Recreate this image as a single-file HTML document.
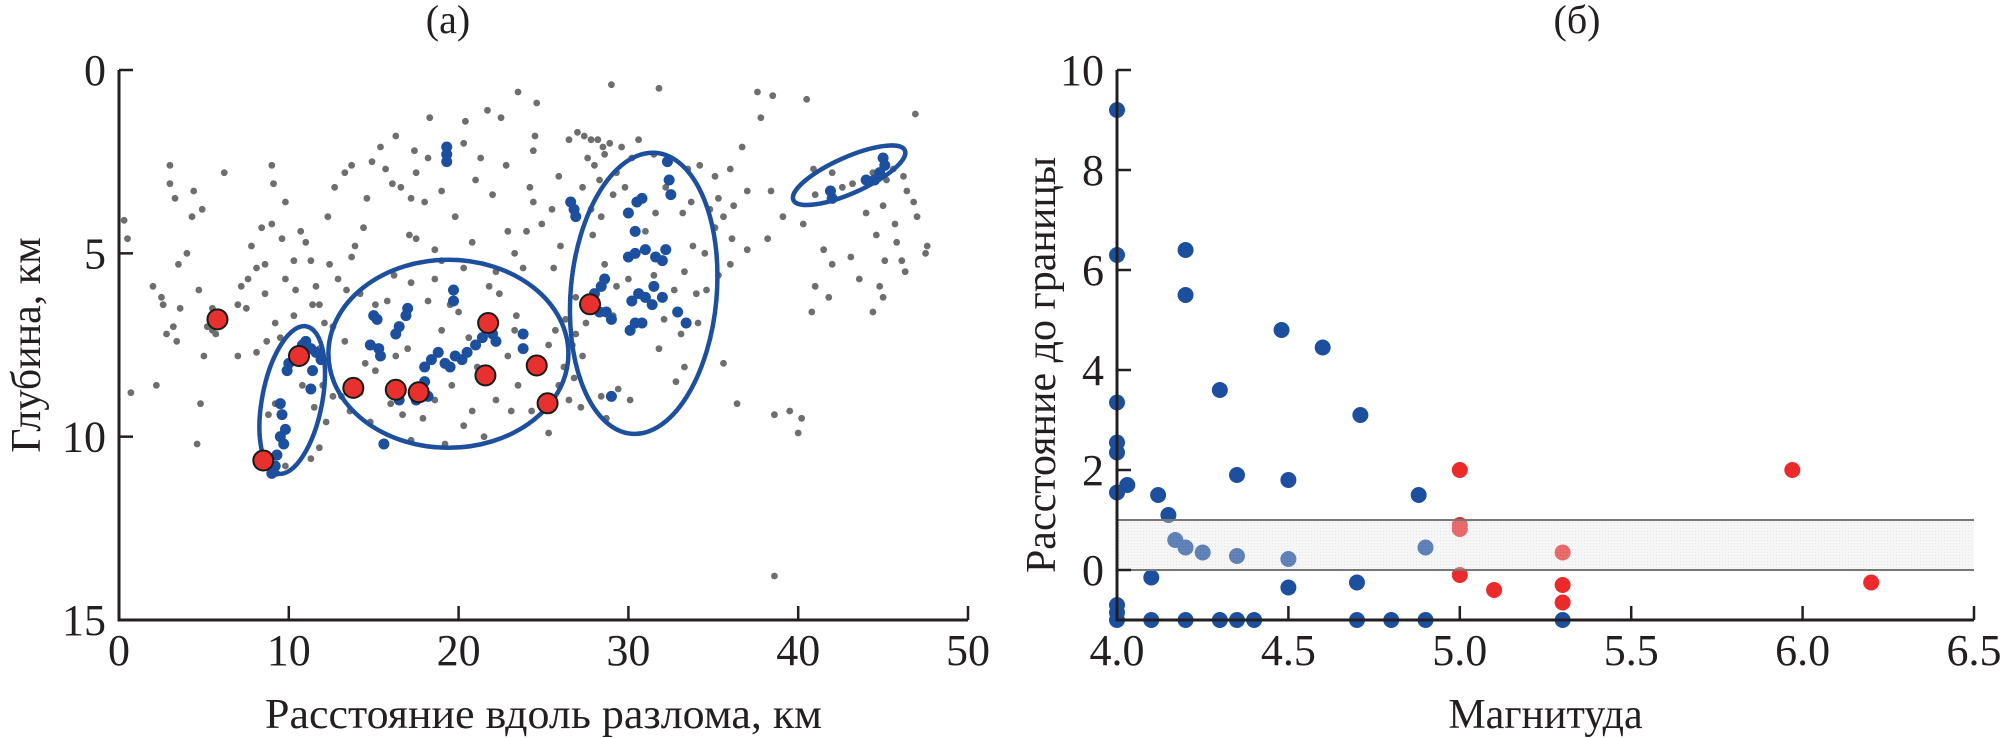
<!DOCTYPE html>
<html><head><meta charset="utf-8"><style>
html,body{margin:0;padding:0;background:#fff;}
svg{display:block;}
text{font-family:"Liberation Serif",serif;fill:#231f20;}
</style></head><body>
<svg id="chart" width="2005" height="738" viewBox="0 0 2005 738" xmlns="http://www.w3.org/2000/svg">
<defs>
<pattern id="dots" width="3" height="3" patternUnits="userSpaceOnUse"><rect width="3" height="3" fill="#e4e4e4"/><rect width="1" height="1" fill="#b8b8b8"/></pattern>
</defs>
<g id="panelA"></g>
<g id="panelB"></g>
</svg>
<script>
// ---------- Panel (a) data ----------
const aXTicks=[0,10,20,30,40,50];
const aYTicks=[0,5,10,15];
const grayPts=[[0.3,4.1],[0.5,4.6],[0.7,8.8],[2,5.9],[2.2,8.6],[2.5,6.2],[2.6,6.4],[3,2.6],[3,3.1],[3.3,3.5],[3.5,5.3],[3.6,6.5],[4.0,5.0],[4.3,4.0],[4.4,3.3],[4.6,10.2],[4.8,9.1],[4.7,6.0],[3.2,7.0],[3.4,7.4],[2.8,7.2],[5.2,7.0],[5.0,7.8],[5.5,7.1],[5.7,7.2],[6.2,2.8],[7,7.8],[7.5,6.5],[7,6.4],[7.2,5.9],[7.6,5.7],[8.1,5.4],[7.8,4.8],[8.4,4.3],[8.6,5.3],[8.6,6.1],[8.1,7.7],[8.7,7.4],[9,4.2],[9.6,4.6],[9.8,5.7],[10.3,5.2],[10.4,6.0],[10.3,6.7],[9.1,3.1],[9,2.6],[9.2,6.9],[9.5,7.3],[11,4.7],[11.4,6.4],[11.6,5.9],[11.8,6.4],[12.4,5.3],[12.1,6.9],[11.8,7.6],[12.3,4.0],[12.7,3.2],[13.3,2.8],[13.7,2.6],[13.9,4.8],[14.4,4.3],[14.6,3.5],[15.7,2.7],[16.3,1.8],[15.4,2.1],[14.9,2.5],[16.1,3.1],[16.6,3.2],[17.1,4.5],[17.2,5.8],[16.2,5.6],[17.5,4.6],[18.6,4.9],[17.4,2.2],[17.5,2.8],[18.2,2.4],[18.3,1.3],[19,3.3],[19.8,4.0],[20.3,2.0],[20.3,5.4],[20.8,4.7],[21.3,2.4],[21.7,1.1],[22.5,1.3],[22.8,2.6],[23.5,0.6],[24.6,0.9],[24.5,1.8],[24.4,2.2],[24.2,3.2],[24.4,3.6],[24.0,4.4],[23.3,5.0],[22.9,4.4],[23.8,5.4],[24.9,4.2],[25.5,3.8],[25.9,2.9],[26,4.8],[25.6,5.4],[26.5,1.9],[27,1.7],[27.4,1.8],[27.8,1.9],[28.5,2.1],[28.6,2.3],[29.3,2.8],[30.2,2.4],[30.6,1.9],[31.5,2.3],[29,0.4],[31.8,0.5],[27.3,3.2],[27.8,3.8],[27.9,4.5],[28.4,4.0],[28.6,5.3],[29.1,3.4],[30.1,3.9],[31,4.4],[31.6,3.9],[32.2,3.2],[33.5,2.7],[34.2,2.6],[35.1,2.9],[35.3,3.5],[35.1,4.3],[34.5,5.0],[33.8,4.8],[33.3,5.5],[32.7,6.0],[32.1,6.8],[31.8,7.6],[30.8,6.9],[29.3,5.9],[29.1,6.7],[30.0,5.7],[31.5,5.6],[34.6,6.0],[34.1,6.9],[33.1,7.2],[36.7,2.1],[36.0,2.7],[37.6,0.6],[38.5,0.7],[37.0,3.3],[36.2,3.7],[38.4,3.3],[39.1,4.0],[38.2,4.6],[37.0,4.9],[37.8,1.3],[40.5,0.8],[41,3.4],[40.3,4.2],[40.9,2.7],[42.0,2.8],[42.6,3.2],[43.2,3.1],[44.4,2.8],[45.2,3.0],[45.6,2.7],[46.2,2.9],[46.4,3.3],[46.8,3.6],[47.0,4.0],[45.7,4.2],[45.0,3.7],[44.0,3.9],[44.6,4.5],[45.8,4.7],[46.1,5.2],[47.5,5.0],[45.1,5.2],[44.8,5.9],[45.0,6.2],[43.6,5.7],[44.4,6.6],[42.0,5.3],[43.1,5.1],[41.5,4.9],[41,5.9],[41.8,6.2],[40.8,6.6],[46.9,1.2],[47.6,4.8],[46.3,5.5],[39.5,9.3],[38.6,9.4],[40.2,9.5],[40.0,9.9],[38.6,13.8],[36.4,9.1],[35.6,8.0],[12,8.6],[12.6,8.9],[12.2,9.6],[13.1,8.9],[13.6,9.3],[14.2,8.8],[14.8,9.6],[15.6,10.2],[16,9.1],[16.7,9.4],[17.2,10.1],[17.9,9.5],[18.6,9.0],[19.2,10.2],[20.3,9.7],[21.5,10.0],[20.8,9.3],[22.2,9.0],[23.1,9.3],[23.5,8.6],[24.3,9.3],[25.3,9.9],[26.5,9.0],[27.2,9.2],[28.4,8.9],[29.4,8.7],[30.1,9.0],[28.7,9.5],[14.5,8.0],[15.1,8.2],[14.9,7.5],[16.3,7.8],[17,7.6],[19,7.1],[19.6,8.6],[20.6,7.3],[21.1,8.1],[22.9,7.8],[23.3,7.1],[23.4,6.7],[25.7,7.1],[25.3,7.5],[26.3,6.8],[26.7,7.5],[26.9,6.2],[22.4,6.1],[22.2,5.5],[21.8,5.9],[18.2,6.3],[19.5,6.4],[15.1,6.4],[15.8,6.3],[13.3,7.4],[12.6,7.0],[13.4,6.0],[9.3,11.0],[9.8,10.8],[9.2,9.1],[8.8,9.4],[11.3,10.6],[11.8,10.3],[10.8,8.6],[11.5,9.2],[5.5,6.5],[6.0,6.8],[4.9,3.8],[28.2,1.9],[28.9,2.0],[29.6,2.1],[27.6,2.4],[28.0,2.6],[29.8,3.2],[28.3,3.0],[27.5,6.9],[26.9,7.2],[27.3,7.8],[26.2,8.1],[25.9,8.6],[26.8,8.4],[33.2,3.9],[33.7,3.6],[34.8,3.8],[35.6,4.0],[36.1,4.6],[36.0,5.3],[35.3,5.6],[34.0,6.1],[33.3,8.1],[32.8,8.5],[12.9,5.7],[13.7,5.1],[14.2,6.1],[11.3,5.2],[10.7,4.4],[9.8,3.6],[20.0,6.6],[18.6,5.7],[19.0,5.2],[18.0,3.6],[17.2,3.5],[22.0,3.4],[21.0,3.0],[20.4,1.4]];
const bluePts=[[10.8,7.5],[11.0,7.4],[11.3,7.6],[11.6,7.7],[11.9,7.9],[10.3,7.8],[10.0,8.0],[9.9,8.2],[11.4,8.2],[11.3,8.7],[9.5,9.1],[9.6,9.4],[9.8,9.8],[9.7,10.2],[9.5,10.0],[9.3,10.5],[9.2,10.8],[9.0,11.0],[16.9,6.7],[17.0,6.5],[16.5,7.0],[16.3,7.2],[14.8,7.5],[15.0,6.7],[15.2,6.8],[15.3,7.6],[15.4,7.8],[19.7,6.0],[19.7,6.3],[21.8,7.0],[22.0,7.2],[22.2,7.4],[18.0,8.1],[18.4,7.9],[18.8,7.7],[19.2,8.0],[19.5,8.1],[19.8,7.8],[20.2,7.9],[20.5,7.7],[21.0,7.5],[21.4,7.3],[18.0,8.5],[18.2,8.9],[17.5,9.0],[16.5,9.0],[16.6,8.7],[23.8,7.2],[23.8,7.6],[21.7,8.2],[15.6,10.2],[28.0,6.1],[28.3,6.6],[28.7,6.6],[29.0,6.8],[28.4,5.9],[28.6,5.7],[30.2,6.3],[30.6,6.1],[31.0,6.2],[31.4,6.4],[32.0,6.2],[31.5,5.9],[30.0,5.1],[30.4,5.0],[31.0,4.9],[31.6,5.1],[32.0,5.2],[32.2,4.9],[30.0,3.9],[30.5,3.6],[30.8,3.5],[30.4,4.4],[32.3,2.5],[32.4,3.0],[32.5,3.4],[26.6,3.6],[26.8,3.8],[26.9,4.0],[33.4,6.9],[32.9,6.6],[30.1,7.1],[30.4,6.9],[30.8,6.9],[29.0,8.9],[41.9,3.3],[42.0,3.5],[44.8,2.8],[44.5,3.0],[44.0,3.0],[45.0,2.4],[45.1,2.6],[19.3,2.1],[19.3,2.3],[19.3,2.5]];
const redPts=[[5.8,6.8],[10.6,7.8],[8.5,10.65],[13.8,8.67],[16.3,8.72],[17.65,8.79],[21.74,6.9],[21.58,8.33],[24.6,8.06],[25.24,9.09],[27.74,6.39]];
const ellCx=[10.2,19.4,30.9,43.0];
const ellCy=[9.0,7.74,6.09,2.87];
const ellRx=[30,120,73,61];
const ellRy=[75,94,141,18];
const ellRot=[11,0,5,-24];

// ---------- Panel (b) data ----------
const bXTicks=[4.0,4.5,5.0,5.5,6.0,6.5];
const bYTicks=[0,2,4,6,8,10];
const blueMag=[4.0,4.0,4.2,4.2,4.48,4.6,4.3,4.71,4.0,4.0,4.0,4.0,4.03,4.12,4.35,4.5,4.88,4.15,4.17,4.2,4.25,4.35,4.5,4.9,4.1,4.5,4.7,4.0,4.0,4.0,4.1,4.2,4.3,4.35,4.4,4.7,4.8,4.9,5.3];
const blueDist=[9.2,6.3,6.4,5.5,4.8,4.45,3.6,3.1,3.35,2.55,2.35,1.55,1.7,1.5,1.9,1.8,1.5,1.1,0.6,0.45,0.35,0.28,0.22,0.45,-0.15,-0.35,-0.25,-0.7,-0.85,-1,-1,-1,-1,-1,-1,-1,-1,-1,-1];
const redMag=[5.0,5.0,5.0,5.3,5.97,5.0,5.1,5.3,5.3,6.2];
const redDist=[2.0,0.9,0.82,0.35,2.0,-0.1,-0.4,-0.3,-0.65,-0.25];
const bandRange=[0,1];

const NS='http://www.w3.org/2000/svg';
function mk(tag,attrs,parent){const e=document.createElementNS(NS,tag);for(const k in attrs)e.setAttribute(k,attrs[k]);parent.appendChild(e);return e;}

const ax=v=>119+v*(968-119)/50;
const ay=v=>70+v*(620-70)/15;
const bx=v=>1117+(v-4)*(1974-1117)/2.5;
const by=v=>570-v*50;

const A=document.getElementById('panelA');
const B=document.getElementById('panelB');

grayPts.forEach(p=>{const c=mk('circle',{cx:ax(p[0]),cy:ay(p[1]),r:3.4,fill:'#6d6e70'},A);

});
bluePts.forEach(p=>{const c=mk('circle',{cx:ax(p[0]),cy:ay(p[1]),r:5.5,fill:'#1d4f9f'},A);

});
ellCx.forEach((cx,i)=>{const X=ax(cx),Y=ay(ellCy[i]);const e=mk('ellipse',{cx:X,cy:Y,rx:ellRx[i],ry:ellRy[i],fill:'none',stroke:'#1d4f9f','stroke-width':4.5,transform:`rotate(${ellRot[i]} ${X} ${Y})`},A);

});
redPts.forEach(p=>{const c=mk('circle',{cx:ax(p[0]),cy:ay(p[1]),r:10,fill:'#e8312f',stroke:'#1a1a1a','stroke-width':2},A);

});
let l=mk('path',{d:`M${ax(0)} ${ay(0)} L${ax(0)} ${ay(15)} L${ax(50)} ${ay(15)}`,fill:'none',stroke:'#231f20','stroke-width':3},A);


aXTicks.forEach(t=>{mk('line',{x1:ax(t),x2:ax(t),y1:ay(15),y2:ay(15)-14,stroke:'#231f20','stroke-width':2.5},A);
const tx=mk('text',{x:ax(t),y:665,'font-size':44,'text-anchor':'middle'},A);tx.textContent=t;

});
aYTicks.forEach(t=>{mk('line',{x1:ax(0),x2:ax(0)+14,y1:ay(t),y2:ay(t),stroke:'#231f20','stroke-width':2.5},A);
const tx=mk('text',{x:106,y:ay(t)+15,'font-size':44,'text-anchor':'end'},A);tx.textContent=t;

});
let t1=mk('text',{x:ax(25),y:728,'font-size':42,'text-anchor':'middle',textLength:557,lengthAdjust:'spacingAndGlyphs'},A);t1.textContent='Расстояние вдоль разлома, км';


let t2=mk('text',{x:0,y:0,'font-size':42,'text-anchor':'middle',transform:'translate(40 345) rotate(-90)'},A);t2.textContent='Глубина, км';


let t3=mk('text',{x:448,y:33,'font-size':40,'text-anchor':'middle'},A);t3.textContent='(а)';



blueMag.forEach((m,i)=>{const c=mk('circle',{cx:bx(m),cy:by(blueDist[i]),r:8,fill:'#1d4f9f'},B);

});
redMag.forEach((m,i)=>{const c=mk('circle',{cx:bx(m),cy:by(redDist[i]),r:8,fill:'#ec2a2a'},B);

});
let band=mk('rect',{x:bx(4),y:by(bandRange[1]),width:bx(6.5)-bx(4),height:by(bandRange[0])-by(bandRange[1]),fill:'url(#dots)','fill-opacity':0.35},B);


bandRange.forEach(v=>{mk('line',{x1:bx(4),x2:bx(6.5),y1:by(v),y2:by(v),stroke:'#777','stroke-width':2},B);});
l=mk('path',{d:`M${bx(4)} ${by(10)} L${bx(4)} ${by(-1)} L${bx(6.5)} ${by(-1)}`,fill:'none',stroke:'#231f20','stroke-width':3},B);


bXTicks.forEach(t=>{mk('line',{x1:bx(t),x2:bx(t),y1:by(-1),y2:by(-1)-14,stroke:'#231f20','stroke-width':2.5},B);
const tx=mk('text',{x:bx(t),y:665,'font-size':44,'text-anchor':'middle'},B);tx.textContent=t.toFixed(1);

});
bYTicks.forEach(t=>{mk('line',{x1:bx(4),x2:bx(4)+14,y1:by(t),y2:by(t),stroke:'#231f20','stroke-width':2.5},B);
const tx=mk('text',{x:1104,y:by(t)+15,'font-size':44,'text-anchor':'end'},B);tx.textContent=t;

});
t1=mk('text',{x:bx(5.25),y:728,'font-size':42,'text-anchor':'middle'},B);t1.textContent='Магнитуда';


t2=mk('text',{x:0,y:0,'font-size':42,'text-anchor':'middle',transform:'translate(1055 365) rotate(-90)'},B);t2.textContent='Расстояние до границы';


t3=mk('text',{x:1577,y:33,'font-size':40,'text-anchor':'middle'},B);t3.textContent='(б)';


</script>
</body></html>
